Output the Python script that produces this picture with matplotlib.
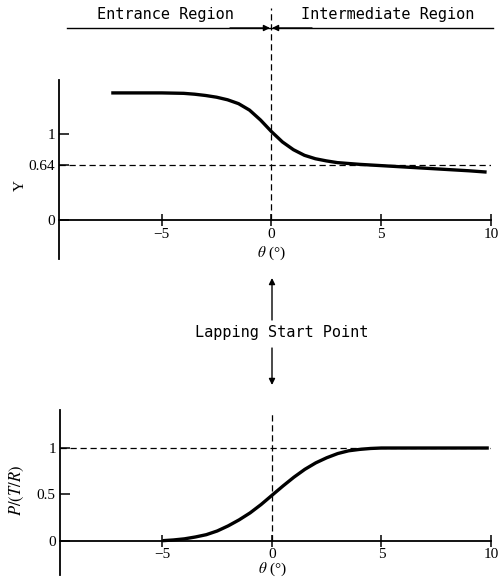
import numpy as np
import matplotlib
matplotlib.use("Agg")
import matplotlib.pyplot as plt

# data
theta_y = [-7.3, -6, -5, -4, -3.5, -3, -2.5, -2, -1.5, -1, -0.5, 0, 0.5, 1,
           1.5, 2, 2.5, 3, 4, 5, 6, 7, 8, 9, 9.8]
Y = [1.48, 1.48, 1.48, 1.475, 1.465, 1.45, 1.43, 1.40, 1.355, 1.28, 1.165,
     1.03, 0.91, 0.82, 0.755, 0.715, 0.69, 0.67, 0.65, 0.635, 0.62, 0.605,
     0.59, 0.575, 0.56]

theta_p = [-5, -4.5, -4, -3.5, -3, -2.5, -2, -1.5, -1, -0.5, 0, 0.5, 1, 1.5,
           2, 2.5, 3, 3.5, 4, 4.5, 5, 6, 7, 8, 9, 9.9]
P = [0.0, 0.008, 0.02, 0.04, 0.065, 0.105, 0.16, 0.225, 0.30, 0.39, 0.49,
     0.59, 0.685, 0.77, 0.84, 0.895, 0.94, 0.97, 0.985, 0.995, 1.0, 1.0, 1.0,
     1.0, 1.0, 1.0]

xticks = [-5, 0, 5, 10]
yticks_top = [0, 0.64, 1]
yticks_bot = [0, 0.5, 1]

plt.rcParams['font.family'] = 'Liberation Serif'
plt.rcParams['mathtext.fontset'] = 'stix'
plt.rcParams['font.size'] = 11
mono = 'DejaVu Sans Mono'
dash = (0, (5, 3))

W, H = 500, 579
fig = plt.figure(figsize=(W / 100, H / 100), dpi=100)


def fx(px):
    return px / W


def fy(py):
    return 1 - py / H


def style_axes(ax, yticks, ylabels):
    for s in ['top', 'right']:
        ax.spines[s].set_visible(False)
    ax.spines['bottom'].set_position(('data', 0))
    ax.spines['left'].set_linewidth(1.3)
    ax.spines['bottom'].set_linewidth(1.3)
    ax.set_xticks(xticks)
    ax.set_xticklabels(['\u22125', '0', '5', '10'])
    ax.tick_params(axis='x', direction='inout', length=9, width=1.1, pad=1)
    ax.set_yticks(yticks)
    ax.set_yticklabels(ylabels)
    ax.tick_params(axis='y', direction='in', length=7, width=1.1, pad=3)
    ax.set_facecolor('none')


# top plot
ax1 = fig.add_axes([fx(59), fy(259), fx(491 - 59), fy(80) - fy(259)])
ax1.set_xlim(-9.68, 10)
ax1.set_ylim(-0.45, 1.63)
style_axes(ax1, yticks_top, ['0', '0.64', '1'])
ax1.plot(theta_y, Y, color='black', lw=2.4, solid_capstyle='butt')
ax1.axhline(0.64, color='black', lw=0.9, ls=dash)
ax1.axvline(0, ymin=(0 + 0.45) / 2.08, ymax=(259 - 8) / 179, color='black',
            lw=0.9, ls=dash, clip_on=False)
ax1.set_ylabel('Y')
ax1.yaxis.set_label_coords(-0.075, 0.41)
ax1.text(0, -0.385, r'$\theta$ (°)', ha='center', va='center', fontsize=11)

# bottom plot
ax2 = fig.add_axes([fx(60), fy(575), fx(491 - 60), fy(410) - fy(575)])
ax2.set_xlim(-9.68, 10)
ax2.set_ylim(-0.37, 1.41)
style_axes(ax2, yticks_bot, ['0', '0.5', '1'])
ax2.plot(theta_p, P, color='black', lw=2.4, solid_capstyle='butt')
ax2.axhline(1, color='black', lw=0.9, ls=dash)
ax2.plot([0, 0], [0, 1.38], color='black', lw=0.9, ls=dash)
ax2.set_ylabel('$P/(T/R)$', fontsize=12)
ax2.yaxis.set_label_coords(-0.08, 0.515)
ax2.text(0, -0.31, r'$\theta$ (°)', ha='center', va='center', fontsize=11)

# region header
fig.text(fx(165), fy(15), 'Entrance Region', family=mono, fontsize=11,
         ha='center', va='center')
fig.text(fx(388), fy(15), 'Intermediate Region', family=mono, fontsize=11,
         ha='center', va='center')
arrow = dict(arrowstyle='-|>', color='black', lw=1.0, mutation_scale=9,
             shrinkA=0, shrinkB=0)
fig.add_artist(plt.Line2D([fx(67), fx(493)], [fy(28), fy(28)], color='black',
                          lw=1.0))
ax1.annotate('', xy=(fx(270), fy(28)), xytext=(fx(230), fy(28)),
             xycoords='figure fraction', arrowprops=arrow)
ax1.annotate('', xy=(fx(272), fy(28)), xytext=(fx(312), fy(28)),
             xycoords='figure fraction', arrowprops=arrow)

# lapping start point
fig.text(fx(282), fy(333), 'Lapping Start Point', family=mono, fontsize=11,
         ha='center', va='center')
ax1.annotate('', xy=(fx(272), fy(278)), xytext=(fx(272), fy(320)),
             xycoords='figure fraction', arrowprops=arrow)
ax1.annotate('', xy=(fx(272), fy(385)), xytext=(fx(272), fy(348)),
             xycoords='figure fraction', arrowprops=arrow)

fig.savefig('out.png', dpi=100)
